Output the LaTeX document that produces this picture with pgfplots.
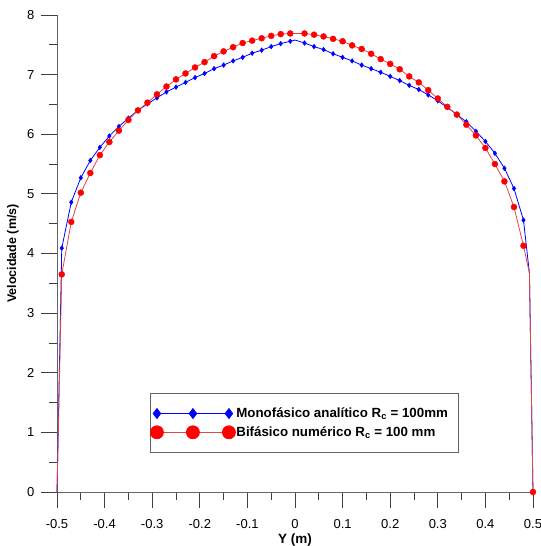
\documentclass[border=0pt]{standalone}
\usepackage{fontspec}
\setmainfont{Liberation Sans}
\usepackage{pgfplots}
\usepackage{pgfplotstable}
\pgfplotsset{compat=1.18}

\definecolor{mono}{RGB}{0,0,255}
\definecolor{bifa}{RGB}{255,0,0}
\definecolor{bifaline}{RGB}{225,70,70}
\definecolor{axisgray}{RGB}{100,100,100}

% v: curve, mv: marked points (nan = line only)
\pgfplotstableread{
y      v     mv
-0.5   0.00  nan
-0.49  4.09  4.09
-0.47  4.86  4.86
-0.45  5.27  5.27
-0.43  5.56  5.56
-0.41  5.78  5.78
-0.39  5.97  5.97
-0.37  6.13  6.13
-0.35  6.27  6.27
-0.33  6.40  6.40
-0.31  6.51  6.51
-0.29  6.61  6.61
-0.27  6.71  6.71
-0.25  6.79  6.79
-0.23  6.87  6.87
-0.21  6.95  6.95
-0.19  7.02  7.02
-0.17  7.10  7.10
-0.15  7.16  7.16
-0.13  7.23  7.23
-0.11  7.29  7.29
-0.09  7.36  7.36
-0.07  7.41  7.41
-0.05  7.47  7.47
-0.03  7.52  7.52
-0.01  7.56  7.56
0.0    7.58  nan
0.02   7.53  7.53
0.04   7.47  7.47
0.06   7.42  7.42
0.08   7.35  7.35
0.10   7.29  7.29
0.12   7.23  7.23
0.14   7.16  7.16
0.16   7.10  7.10
0.18   7.04  7.04
0.20   6.97  6.97
0.22   6.90  6.90
0.24   6.82  6.82
0.26   6.75  6.75
0.28   6.66  6.66
0.30   6.56  6.56
0.32   6.45  6.45
0.34   6.33  6.33
0.36   6.21  6.21
0.38   6.05  6.05
0.40   5.88  5.88
0.42   5.68  5.68
0.44   5.43  5.43
0.46   5.09  5.09
0.48   4.56  4.56
0.4925 3.67  nan
0.5    0.00  nan
}\monotab

\pgfplotstableread{
y      v     mv
-0.5   0.00  nan
-0.49  3.65  3.65
-0.47  4.53  4.53
-0.45  5.02  5.02
-0.43  5.35  5.35
-0.41  5.65  5.65
-0.39  5.87  5.87
-0.37  6.06  6.06
-0.35  6.24  6.24
-0.33  6.40  6.40
-0.31  6.53  6.53
-0.29  6.67  6.67
-0.27  6.80  6.80
-0.25  6.92  6.92
-0.23  7.02  7.02
-0.21  7.12  7.12
-0.19  7.21  7.21
-0.17  7.31  7.31
-0.15  7.39  7.39
-0.13  7.46  7.46
-0.11  7.53  7.53
-0.09  7.57  7.57
-0.07  7.61  7.61
-0.05  7.65  7.65
-0.03  7.68  7.68
-0.01  7.69  7.69
0.02   7.69  7.69
0.04   7.67  7.67
0.06   7.64  7.64
0.08   7.60  7.60
0.10   7.56  7.56
0.12   7.49  7.49
0.14   7.43  7.43
0.16   7.35  7.35
0.18   7.26  7.26
0.20   7.18  7.18
0.22   7.09  7.09
0.24   6.97  6.97
0.26   6.87  6.87
0.28   6.74  6.74
0.30   6.60  6.60
0.32   6.46  6.46
0.34   6.33  6.33
0.36   6.16  6.16
0.38   5.98  5.98
0.40   5.77  5.77
0.42   5.50  5.50
0.44   5.21  5.21
0.46   4.78  4.78
0.48   4.13  4.13
0.4925 3.67  nan
0.5    0.00  0.00
}\bifatab

\begin{document}
\begin{tikzpicture}
\path[use as bounding box] (-57bp,-54bp) rectangle (484bp,492bp);
\begin{axis}[
  scale only axis, width=476bp, height=477bp,
  xmin=-0.5, xmax=0.5, ymin=0, ymax=8,
  axis x line*=bottom, axis y line*=left,
  axis line style={axisgray, line width=0.8bp},
  every tick/.style={black!75, line width=0.8bp},
  tick align=outside,
  major tick length=16bp, minor tick length=8bp,
  xtick={-0.5,-0.4,-0.3,-0.2,-0.1,0,0.1,0.2,0.3,0.4,0.5},
  xticklabels={-0.5,-0.4,-0.3,-0.2,-0.1,0,0.1,0.2,0.3,0.4,0.5},
  ytick={0,1,...,8},
  minor x tick num=1, minor y tick num=1,
  tick label style={font=\fontsize{13bp}{15bp}\selectfont},
  xticklabel style={yshift=-7.5bp},
  yticklabel style={xshift=-3bp},
  /pgf/number format/assume math mode=true,
  xlabel={Y (m)}, ylabel={Velocidade (m/s)},
  every axis x label/.style={at={(axis description cs:0.5,0)}, yshift=-48bp, anchor=center,
    font=\fontsize{13.5bp}{16bp}\selectfont\bfseries},
  every axis y label/.style={at={(axis description cs:0,0.5)}, xshift=-44bp, rotate=90, anchor=center,
    font=\fontsize{12.5bp}{15bp}\selectfont\bfseries},
  clip=false,
  legend cell align=left,
  legend style={at={(0.1954,0.2075)}, anchor=north west,
    draw=axisgray, fill=white, line width=0.8bp,
    inner xsep=0bp, inner ysep=12.5bp, row sep=3.5bp,
    font=\fontsize{13.3bp}{15bp}\selectfont\bfseries,
    nodes={inner xsep=1bp, inner ysep=2bp}},
  legend image code/.code={%
    \draw[mark repeat=1, mark phase=1, #1] plot coordinates {(0bp,0bp) (36bp,0bp) (72bp,0bp)};},
]
\addplot[mono, line width=0.8bp, no markers, forget plot] table[x=y, y=v] {\monotab};
\addplot[only marks, mark=diamond*, mark size=2.4bp, mark options={fill=mono, draw=mono}, forget plot] table[x=y, y=mv] {\monotab};
\addplot[bifaline, line width=0.8bp, no markers, forget plot] table[x=y, y=v] {\bifatab};
\addplot[only marks, mark=*, mark size=3bp, mark options={fill=bifa, draw=bifa}, forget plot] table[x=y, y=mv] {\bifatab};

\addlegendimage{mono, line width=0.8bp, mark=diamond*, mark size=5bp, mark options={fill=mono, draw=mono}}
\addlegendentry{Monofásico analítico R\textsubscript{c} = 100mm\hspace*{9bp}}
\addlegendimage{bifaline, line width=0.8bp, mark=*, mark size=6.5bp, mark options={fill=bifa, draw=bifa}}
\addlegendentry{Bifásico numérico R\textsubscript{c} = 100 mm}
\end{axis}
\end{tikzpicture}
\end{document}
